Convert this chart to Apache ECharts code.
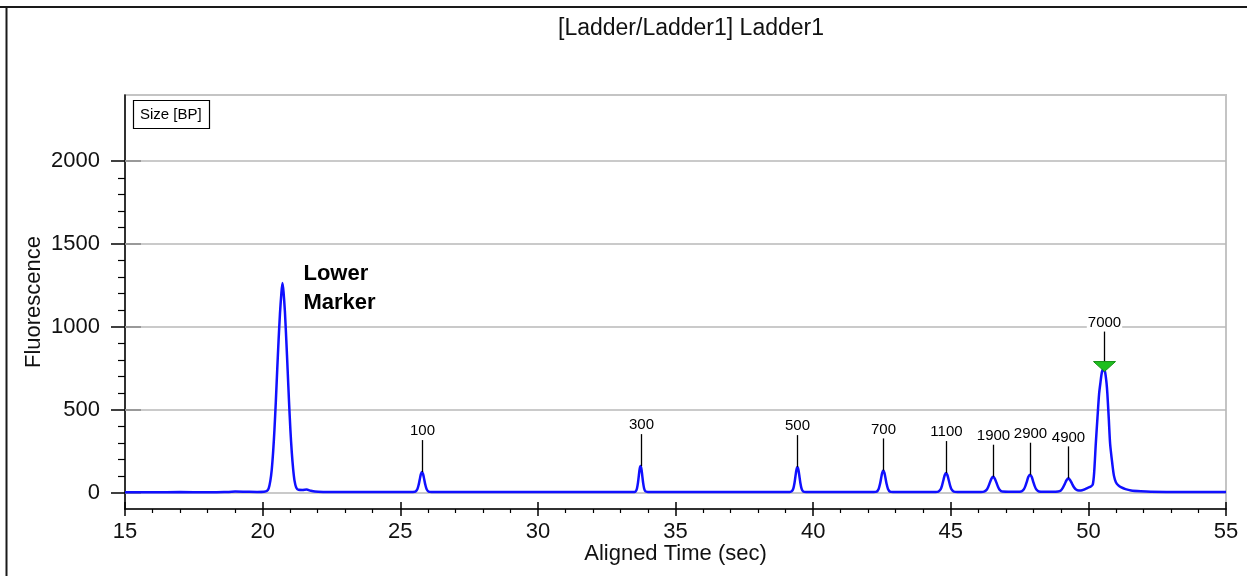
<!DOCTYPE html>
<html>
<head>
<meta charset="utf-8">
<script src="https://cdn.jsdelivr.net/npm/echarts@6/dist/echarts.min.js"></script>
<style>
html, body { margin: 0; padding: 0; background: #ffffff; }
#chart { width: 1247px; height: 576px; }
</style>
</head>
<body>
<div id="chart"></div>
<script>
// ---------- data ----------
const chartTitle = '[Ladder/Ladder1] Ladder1';
const xAxisName = 'Aligned Time (sec)';
const yAxisName = 'Fluorescence';
const legendText = 'Size [BP]';

const xMin = 15, xMax = 55, xStep = 5;
const yMin = -100, yMax = 2400;
const yMajorTicks = [0, 500, 1000, 1500, 2000];
const yMinorTicks = [100, 200, 300, 400, 600, 700, 800, 900, 1100, 1200, 1300, 1400, 1600, 1700, 1800, 1900];

// electropherogram trace: [time (s), fluorescence]
const trace = [
  [15.0, 1], [16.0, 1], [17.0, 2], [18.0, 1], [18.6, 2], [19.0, 5], [19.4, 4], [19.8, 3],
  [20.05, 4], [20.15, 8], [20.22, 25], [20.28, 70], [20.33, 135], [20.38, 240], [20.43, 380],
  [20.48, 550], [20.53, 740], [20.58, 920], [20.63, 1080], [20.68, 1200], [20.72, 1265],
  [20.76, 1210], [20.81, 1090], [20.86, 920], [20.91, 735], [20.96, 545], [21.01, 375],
  [21.06, 240], [21.11, 140], [21.16, 70], [21.22, 30], [21.3, 16], [21.45, 15], [21.6, 17],
  [21.75, 10], [21.9, 5], [22.2, 3], [23.0, 2], [24.0, 3], [25.0, 2], [25.45, 3],
  [25.55, 5], [25.62, 19], [25.67, 47], [25.71, 80], [25.75, 110], [25.79, 123], [25.83, 110],
  [25.87, 80], [25.91, 47], [25.96, 19], [26.03, 5], [26.15, 3],
  [27.0, 2], [28.5, 2], [30.0, 3], [31.5, 2], [33.0, 2], [33.5, 3],
  [33.55, 6], [33.6, 24], [33.64, 63], [33.67, 105], [33.7, 143], [33.73, 159], [33.76, 143],
  [33.79, 105], [33.82, 63], [33.86, 24], [33.91, 6], [34.0, 3],
  [35.0, 2], [36.5, 2], [38.0, 3], [39.15, 3],
  [39.22, 6], [39.28, 23], [39.325, 59], [39.36, 100], [39.395, 137], [39.43, 153], [39.465, 137],
  [39.5, 100], [39.535, 59], [39.58, 23], [39.64, 6], [39.75, 3],
  [40.5, 2], [41.5, 3], [42.2, 3],
  [42.31, 5], [42.38, 21], [42.43, 51], [42.47, 86], [42.51, 119], [42.55, 133], [42.59, 119],
  [42.63, 86], [42.67, 51], [42.72, 21], [42.79, 5], [42.9, 3],
  [43.6, 3], [44.45, 3],
  [44.55, 5], [44.63, 18], [44.68, 40], [44.73, 72], [44.78, 104], [44.83, 117], [44.88, 104],
  [44.93, 72], [44.98, 40], [45.03, 18], [45.11, 5], [45.25, 3],
  [45.7, 3], [46.1, 3],
  [46.21, 5], [46.3, 15], [46.36, 33], [46.42, 59], [46.48, 84], [46.54, 95], [46.6, 84],
  [46.66, 59], [46.72, 33], [46.78, 15], [46.87, 5], [47.2, 4],
  [47.56, 6], [47.65, 18], [47.71, 38], [47.765, 66], [47.82, 95], [47.88, 107], [47.94, 95],
  [47.995, 66], [48.05, 38], [48.11, 18], [48.2, 6], [48.4, 4],
  [48.7, 4], [48.9, 6], [49.0, 12], [49.07, 27], [49.14, 50], [49.2, 72], [49.27, 85], [49.34, 74],
  [49.4, 55], [49.47, 33], [49.55, 18], [49.65, 12], [49.73, 12], [49.85, 18], [49.98, 28],
  [50.09, 36], [50.16, 48], [50.21, 120], [50.27, 296], [50.33, 450], [50.39, 596], [50.44, 665],
  [50.49, 725], [50.55, 748], [50.61, 725], [50.66, 660], [50.69, 596], [50.74, 450], [50.79, 294],
  [50.87, 173], [50.93, 100], [51.0, 62], [51.09, 42], [51.18, 32], [51.35, 20], [51.55, 12],
  [51.9, 7], [52.27, 4], [53.0, 3], [54.0, 2], [55.0, 2]
];

// sized ladder peaks
const sizeLabels  = ['100', '300', '500', '700', '1100', '1900', '2900', '4900', '7000'];
const sizeTimes   = [25.79, 33.73, 39.43, 42.55, 44.83, 46.54, 47.88, 49.27, 50.55];
const sizeHeights = [123, 159, 153, 133, 117, 95, 107, 85, 748];
const flaggedSize = '7000';

const lowerMarkerTime = 20.72;
const lowerMarkerHeight = 1265;
const lowerMarkerText = 'Lower\nMarker';

// ---------- chart ----------
const FONT = '"Liberation Sans", Arial, sans-serif';

const chart = echarts.init(document.getElementById('chart'), null, { renderer: 'canvas' });

const hiddenYAxisBase = {
  type: 'value', min: yMin, max: yMax, position: 'left',
  axisLine: { show: false, onZero: false }, axisLabel: { show: false }, splitLine: { show: false }
};

const option = {
  animation: false,
  backgroundColor: '#ffffff',
  grid: {
    left: 125, right: 21, top: 95, bottom: 67,
    show: true, borderColor: '#c4c4c4', borderWidth: 2, backgroundColor: '#ffffff',
    containLabel: false, outerBoundsMode: 'none'
  },
  xAxis: [
    {
      type: 'value', min: xMin, max: xMax, interval: xStep, position: 'bottom',
      axisLine: { show: true, onZero: false, lineStyle: { color: '#000', width: 1.5 } },
      axisTick: { show: true, inside: false, length: 7, lineStyle: { color: '#000', width: 1.5 } },
      minorTick: { show: true, splitNumber: 5, length: 4, lineStyle: { color: '#000', width: 1.2 } },
      axisLabel: { show: true, margin: 12, color: '#111', fontSize: 22, fontFamily: FONT },
      splitLine: { show: false },
      name: xAxisName, nameLocation: 'middle', nameGap: 34, nameMoveOverlap: false,
      nameTextStyle: { color: '#111', fontSize: 22, fontFamily: FONT }
    },
    {
      type: 'value', min: xMin, max: xMax, interval: xStep, position: 'bottom',
      axisLine: { show: false, onZero: false }, axisLabel: { show: false }, splitLine: { show: false },
      axisTick: { show: true, inside: true, length: 7, lineStyle: { color: '#000', width: 1.5 } }
    }
  ],
  yAxis: [
    {
      type: 'value', min: yMin, max: yMax, position: 'left',
      axisLine: { show: true, onZero: false, lineStyle: { color: '#000', width: 1.5 } },
      axisTick: { show: true, inside: false, length: 14, customValues: yMajorTicks, lineStyle: { color: '#000', width: 1.5 } },
      axisLabel: {
        show: true, customValues: yMajorTicks, margin: 25, color: '#111', fontSize: 22, fontFamily: FONT,
        formatter: function (v) { return String(v); }
      },
      splitLine: { show: false },
      name: yAxisName, nameLocation: 'middle', nameGap: 80, nameMoveOverlap: false,
      nameTextStyle: { color: '#111', fontSize: 22, fontFamily: FONT }
    },
    Object.assign({}, hiddenYAxisBase, {
      axisTick: { show: true, inside: true, length: 16, customValues: yMajorTicks, lineStyle: { color: '#000', width: 1.5 } }
    }),
    Object.assign({}, hiddenYAxisBase, {
      axisTick: { show: true, inside: false, length: 7, customValues: yMinorTicks, lineStyle: { color: '#000', width: 1.2 } }
    })
  ],
  graphic: [
    { type: 'line', shape: { x1: 0, y1: 7, x2: 1247, y2: 7 }, style: { stroke: '#1a1a1a', lineWidth: 2 }, z: 10 },
    { type: 'line', shape: { x1: 6.5, y1: 6, x2: 6.5, y2: 576 }, style: { stroke: '#1a1a1a', lineWidth: 2 }, z: 10 },
    {
      type: 'text', x: 691, y: 29, z: 10,
      style: { text: chartTitle, fill: '#111', font: '23px ' + FONT, align: 'center', verticalAlign: 'middle' }
    },
    {
      type: 'group', x: 133, y: 100, z: 10,
      children: [
        { type: 'rect', shape: { x: 0.5, y: 0.5, width: 76, height: 28 }, style: { fill: '#fff', stroke: '#000', lineWidth: 1.2 } },
        { type: 'text', x: 7, y: 15, style: { text: legendText, fill: '#000', font: '15px ' + FONT, verticalAlign: 'middle' } }
      ]
    }
  ],
  series: [
    {
      name: 'grid lines', type: 'line', data: [], silent: true, z: 1,
      markLine: {
        silent: true, symbol: ['none', 'none'], z: 1,
        label: { show: false },
        lineStyle: { color: '#b9b9b9', width: 1.5, type: 'solid' },
        emphasis: { disabled: true },
        data: yMajorTicks.map(v => ({ yAxis: v }))
      }
    },
    {
      name: 'Fluorescence', type: 'line', data: trace, z: 3,
      showSymbol: false, symbol: 'none', smooth: 0.25, silent: true,
      lineStyle: { color: '#1010ff', width: 2.5 }
    },
    {
      name: 'Size [BP]', type: 'custom', z: 4, silent: true,
      data: sizeTimes.map((t, i) => [t, sizeHeights[i], i]),
      renderItem: function (params, api) {
        const p = api.coord([api.value(0), api.value(1)]);
        const i = api.value(2);
        const x = Math.round(p[0]) + 0.5;
        const y = p[1];
        const label = sizeLabels[i];
        const flagged = label === flaggedSize;
        const children = [];
        const lineBottom = flagged ? y - 7 : y;
        const lineTop = flagged ? y - 37 : y - 32;
        const textY = flagged ? y - 46 : y - 41;
        children.push({ type: 'line', shape: { x1: x, y1: lineBottom, x2: x, y2: lineTop }, style: { stroke: '#000', lineWidth: 1.3 } });
        if (flagged) {
          children.push({ type: 'polygon', shape: { points: [[x - 11, y - 7], [x + 11, y - 7], [x, y + 3]] }, style: { fill: '#1fbf1f', stroke: '#139013', lineWidth: 1 } });
        }
        children.push({
          type: 'text', x: x, y: textY,
          style: { text: label, fill: '#000', font: '15px ' + FONT, align: 'center', verticalAlign: 'middle', backgroundColor: '#fff', padding: [0, 1] }
        });
        return { type: 'group', children: children };
      }
    },
    {
      name: 'Lower Marker', type: 'custom', z: 4, silent: true,
      data: [[lowerMarkerTime, lowerMarkerHeight]],
      renderItem: function (params, api) {
        const p = api.coord([api.value(0), api.value(1)]);
        return {
          type: 'text', x: p[0] + 21, y: p[1] + 5,
          style: { text: lowerMarkerText, fill: '#000', font: 'bold 22px ' + FONT, align: 'left', verticalAlign: 'middle', lineHeight: 29 }
        };
      }
    }
  ]
};

chart.setOption(option);
</script>
</body>
</html>
